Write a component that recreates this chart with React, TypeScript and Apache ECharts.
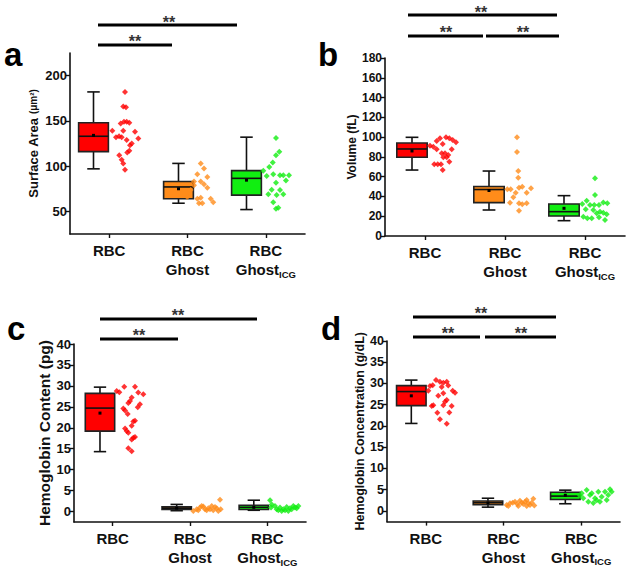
import React, { useEffect, useRef } from "react";
import * as echarts from "echarts";

// ---------- data ----------
const categories = ["RBC", "RBC\nGhost", "RBC\nGhost{sub|ICG}"];
const catPos = [0.5, 1.5, 2.5];
const groupColors = ["#ff0000", "#ff8c1a", "#11ee11"];

const aTicks = [50, 100, 150, 200];
const bTicks = [0, 20, 40, 60, 80, 100, 120, 140, 160, 180];
const cdTicks = [0, 5, 10, 15, 20, 25, 30, 35, 40];

// box stats: [min, q1, median, q3, max, mean]
const aBox = [
  [97, 116, 133, 148, 182, 134],
  [59, 64, 77, 83, 103, 75],
  [52, 68, 86.5, 95, 132, 84.5],
];
const aBoxX = [0.3, 1.385, 2.253];
const bBox = [
  [66.7, 79.6, 88, 94, 99.8, 86],
  [26.3, 33.7, 47, 50, 65.7, 46],
  [15.5, 20.2, 24.6, 32.4, 40.8, 28],
];
const bBoxX = [0.3375, 1.3, 2.2375];
const cBox = [
  [14.3, 19.2, 24.7, 28.2, 29.7, 23.5],
  [0.2, 0.5, 0.8, 1.1, 1.7, 0.8],
  [0.3, 0.5, 1.0, 1.5, 2.7, 1.0],
];
const cBoxX = [0.336, 1.328, 2.325];
const dBox = [
  [20.6, 24.8, 28.1, 29.5, 30.8, 27.1],
  [0.9, 1.5, 1.95, 2.35, 3.0, 1.9],
  [1.7, 2.7, 3.5, 4.4, 4.9, 3.7],
];
const dBoxX = [0.313, 1.3, 2.296];

// individual points: [x, value]
const aRbc = [
  [0.702, 182], [0.68, 166], [0.715, 165], [0.647, 147], [0.689, 149], [0.724, 149],
  [0.757, 148], [0.54, 139], [0.68, 139], [0.83, 138], [0.587, 132], [0.626, 133],
  [0.66, 132], [0.872, 130.5], [0.724, 129], [0.788, 125], [0.766, 123], [0.757, 117],
  [0.731, 115], [0.629, 112], [0.66, 107], [0.68, 103], [0.702, 96],
];
const aGhost = [
  [1.669, 103], [1.711, 97.5], [1.625, 91], [1.753, 88], [1.583, 83], [1.669, 83],
  [1.711, 80], [1.583, 79], [1.753, 76], [1.541, 73.5], [1.497, 66], [1.625, 64],
  [1.669, 65], [1.796, 64], [1.829, 60], [1.647, 59], [1.689, 59],
];
const aIcg = [
  [2.63, 131], [2.672, 116], [2.63, 112], [2.588, 104], [2.544, 99], [2.468, 95],
  [2.595, 91], [2.681, 90], [2.723, 90], [2.796, 90], [2.511, 89], [2.757, 84],
  [2.63, 81.5], [2.575, 74], [2.681, 73.5], [2.532, 69], [2.638, 68], [2.723, 69],
  [2.595, 60], [2.63, 53], [2.659, 54],
];
const bRbc = [
  [0.7625, 99.8], [0.804, 98.8], [0.846, 97], [0.8875, 94.7], [0.6875, 98.8], [0.646, 96],
  [0.721, 93], [0.5625, 91.3], [0.604, 90.3], [0.646, 87.7], [0.834, 87.7], [0.709, 83.6],
  [0.75, 83.6], [0.791, 81.9], [0.729, 79.6], [0.771, 79.6], [0.804, 75], [0.616, 72.5],
  [0.659, 72.5], [0.7, 72.5], [0.721, 66.7],
];
const bGhost = [
  [1.65, 99.8], [1.65, 85], [1.666, 65.7], [1.666, 59], [1.529, 47.2], [1.571, 47.2],
  [1.675, 48.9], [1.716, 49.9], [1.825, 48.2], [1.634, 43.8], [1.771, 43.8], [1.604, 39.1],
  [1.5625, 33.7], [1.675, 33], [1.716, 32], [1.771, 33], [1.675, 25.6],
];
const bIcg = [
  [2.625, 58.3], [2.625, 41.5], [2.521, 35.7], [2.466, 32.4], [2.5625, 31.3], [2.616, 31.3],
  [2.675, 31.3], [2.729, 34], [2.779, 33], [2.509, 27], [2.604, 26.3], [2.6875, 24.6],
  [2.729, 23.6], [2.771, 21.9], [2.646, 23], [2.479, 19.5], [2.529, 17.9], [2.584, 17.9],
  [2.675, 18.9], [2.75, 16.2],
];
const cRbc = [
  [0.552, 28.8], [0.586, 28.5], [0.65, 29.8], [0.789, 29.8], [0.831, 28.4], [0.896, 28],
  [0.746, 27.2], [0.724, 26.4], [0.702, 25.9], [0.853, 25.6], [0.824, 24.9], [0.638, 24.6],
  [0.66, 24.1], [0.694, 23.3], [0.789, 21.7], [0.767, 21.5], [0.746, 20.5], [0.66, 19.8],
  [0.681, 19.2], [0.702, 18.8], [0.789, 17.8], [0.746, 17.2], [0.767, 17.6], [0.702, 15.1],
  [0.746, 14.4],
];
const cGhost = [
  [1.543, 0.15], [1.587, 0.55], [1.629, 0.95], [1.672, 1.2], [1.694, 0.55], [1.737, 0.8],
  [1.781, 1.35], [1.801, 0.3], [1.845, 0.8], [1.888, 2.8], [1.897, 0.55], [1.607, 0.3],
  [1.716, 0.3], [1.759, 0.55], [1.651, 1.35], [1.823, 1.1], [1.866, 0.15],
];
const cIcg = [
  [2.535, 2.7], [2.557, 1.7], [2.548, 0.95], [2.621, 0.55], [2.664, 0.95], [2.707, 0.55],
  [2.75, 1.1], [2.793, 0.8], [2.836, 1.35], [2.88, 0.8], [2.901, 1.35], [2.642, 0.3],
  [2.686, 0.15], [2.729, 0.3], [2.771, 0.15], [2.815, 0.55], [2.858, 0.95], [2.599, 1.35],
];
const dRbc = [
  [0.631, 30.8], [0.682, 30.4], [0.725, 30.2], [0.769, 30.4], [0.588, 29.6], [0.554, 29.4],
  [0.704, 29.2], [0.789, 29.5], [0.532, 28.3], [0.846, 28.3], [0.876, 27.8], [0.725, 27.7],
  [0.66, 27.1], [0.769, 26.1], [0.747, 25.7], [0.576, 24.7], [0.596, 24.9], [0.725, 24.9],
  [0.833, 24.7], [0.648, 23.1], [0.802, 23.2], [0.682, 21.6], [0.769, 20.5],
];
const dGhost = [
  [1.541, 1.4], [1.562, 1.2], [1.584, 1.8], [1.618, 1.95], [1.648, 2.2], [1.678, 1.65],
  [1.691, 1.2], [1.712, 2.4], [1.734, 1.95], [1.755, 1.65], [1.777, 2.2], [1.799, 2.6],
  [1.799, 1.2], [1.82, 1.8], [1.841, 1.4], [1.863, 1.95], [1.884, 2.9], [1.897, 1.3],
];
const dIcg = [
  [2.507, 4.16], [2.527, 3.0], [2.571, 4.94], [2.592, 2.2], [2.614, 3.76], [2.656, 1.9],
  [2.678, 3.0], [2.721, 4.55], [2.742, 2.2], [2.764, 3.37], [2.807, 4.55], [2.829, 2.6],
  [2.849, 3.76], [2.893, 4.55], [2.871, 5.1], [2.485, 3.6], [2.636, 4.16], [2.7, 2.5],
];

// ---------- chart ----------
const FONT = "'Liberation Sans', Arial, sans-serif";

const renderBox = (params: any, api: any) => {
  const x = api.value(0);
  const lo = api.coord([x, api.value(1)]);
  const q1 = api.coord([x, api.value(2)]);
  const md = api.coord([x, api.value(3)]);
  const q3 = api.coord([x, api.value(4)]);
  const hi = api.coord([x, api.value(5)]);
  const mn = api.coord([x, api.value(6)]);
  const half = api.size([0.38, 0])[0] / 2;
  const cap = half * 0.42;
  const color = api.visual("color");
  const ls = { stroke: "#111", lineWidth: 1.6 };
  return {
    type: "group",
    children: [
      { type: "line", shape: { x1: lo[0], y1: lo[1], x2: hi[0], y2: hi[1] }, style: ls },
      { type: "line", shape: { x1: hi[0] - cap, y1: hi[1], x2: hi[0] + cap, y2: hi[1] }, style: ls },
      { type: "line", shape: { x1: lo[0] - cap, y1: lo[1], x2: lo[0] + cap, y2: lo[1] }, style: ls },
      {
        type: "rect",
        shape: { x: q3[0] - half, y: q3[1], width: 2 * half, height: Math.max(q1[1] - q3[1], 1) },
        style: { fill: color, stroke: "#222", lineWidth: 1.6 },
      },
      { type: "line", shape: { x1: md[0] - half, y1: md[1], x2: md[0] + half, y2: md[1] }, style: ls },
      { type: "rect", shape: { x: mn[0] - 1.5, y: mn[1] - 1.5, width: 3, height: 3 }, style: { fill: "#000" } },
    ],
  };
};

type Panel = {
  grid: { left: number; top: number; width: number; height: number };
  yMin: number;
  yMax: number;
  ticks: number[];
  name: string;
  nameSize: number;
  nameGap: number;
  labelSize: number;
  box: number[][];
  boxX: number[];
  points: number[][][];
};

const panels: Panel[] = [
  {
    grid: { left: 70, top: 53, width: 235, height: 181 },
    yMin: 25, yMax: 225, ticks: aTicks,
    name: "Surface Area {s|(μm²)}", nameSize: 13, nameGap: 30, labelSize: 13,
    box: aBox, boxX: aBoxX, points: [aRbc, aGhost, aIcg],
  },
  {
    grid: { left: 385, top: 58, width: 240, height: 178 },
    yMin: 0, yMax: 180, ticks: bTicks,
    name: "Volume (fL)", nameSize: 12, nameGap: 26, labelSize: 12,
    box: bBox, boxX: bBoxX, points: [bRbc, bGhost, bIcg],
  },
  {
    grid: { left: 74, top: 344, width: 232, height: 180.6 },
    yMin: -2.5, yMax: 40, ticks: cdTicks,
    name: "Hemoglobin Content (pg)", nameSize: 15.5, nameGap: 21, labelSize: 13,
    box: cBox, boxX: cBoxX, points: [cRbc, cGhost, cIcg],
  },
  {
    grid: { left: 387, top: 341, width: 233, height: 180.6 },
    yMin: -2.5, yMax: 40, ticks: cdTicks,
    name: "Hemoglobin Concentration (g/dL)", nameSize: 12.5, nameGap: 21, labelSize: 12.5,
    box: dBox, boxX: dBoxX, points: [dRbc, dGhost, dIcg],
  },
];

const catLabel = (v: number) => {
  let best = 0;
  catPos.forEach((p, i) => {
    if (Math.abs(p - v) < Math.abs(catPos[best] - v)) best = i;
  });
  return categories[best];
};

const buildOption = () => {
  const grid: any[] = [];
  const xAxis: any[] = [];
  const yAxis: any[] = [];
  const series: any[] = [];
  const axisLine = { show: true, onZero: false, lineStyle: { color: "#111", width: 1.6 } };
  panels.forEach((p, i) => {
    grid.push({ ...p.grid });
    xAxis.push({
      type: "value",
      gridIndex: i,
      min: 0,
      max: 3,
      axisLine,
      splitLine: { show: false },
      axisTick: { show: true, customValues: catPos, length: 4, lineStyle: { color: "#111", width: 1.4 } },
      axisLabel: {
        customValues: catPos,
        formatter: (v: number) => catLabel(v),
        fontSize: 15,
        fontWeight: "bold",
        color: "#111",
        lineHeight: 19,
        margin: 7,
        fontFamily: FONT,
        rich: {
          sub: { fontSize: 9.5, fontWeight: "bold", color: "#111", verticalAlign: "bottom", padding: [7, 0, 0, 0], fontFamily: FONT },
        },
      },
    });
    yAxis.push({
      type: "value",
      gridIndex: i,
      min: p.yMin,
      max: p.yMax,
      name: p.name,
      nameLocation: "middle",
      nameGap: p.nameGap,
      nameTextStyle: {
        fontSize: p.nameSize,
        fontWeight: "bold",
        color: "#111",
        fontFamily: FONT,
        rich: { s: { fontSize: 10, fontWeight: "bold", color: "#111", fontFamily: FONT } },
      },
      axisLine,
      splitLine: { show: false },
      axisTick: { show: true, customValues: p.ticks, length: 4, lineStyle: { color: "#111", width: 1.4 } },
      axisLabel: {
        customValues: p.ticks,
        fontSize: p.labelSize,
        fontWeight: "bold",
        color: "#111",
        margin: 3,
        fontFamily: FONT,
      },
    });
    series.push({
      type: "custom",
      xAxisIndex: i,
      yAxisIndex: i,
      renderItem: renderBox,
      encode: { x: 0, y: [1, 2, 3, 4, 5, 6] },
      data: p.box.map((s, k) => ({ value: [p.boxX[k], ...s], itemStyle: { color: groupColors[k] } })),
      z: 2,
    });
    p.points.forEach((pts, k) => {
      series.push({
        type: "scatter",
        xAxisIndex: i,
        yAxisIndex: i,
        data: pts,
        symbol: "diamond",
        symbolSize: 6,
        itemStyle: { color: groupColors[k] },
        z: 3,
      });
    });
  });

  const letter = (t: string, x: number, y: number) => ({
    type: "text",
    x,
    y,
    style: { text: t, fontSize: 33, fontWeight: "bold", fill: "#000", font: `bold 33px ${FONT}`, textVerticalAlign: "alphabetic" },
  });
  const bar = (x1: number, x2: number, y: number) => ({
    type: "line",
    shape: { x1, y1: y, x2, y2: y },
    style: { stroke: "#000", lineWidth: 3 },
  });
  const stars = (x: number, y: number) => ({
    type: "text",
    x,
    y,
    style: { text: "**", font: `bold 16px ${FONT}`, fill: "#333", textAlign: "center", textVerticalAlign: "middle" },
  });

  const graphic = [
    letter("a", 4, 38),
    letter("b", 318, 38),
    letter("c", 7, 312),
    letter("d", 321, 312),
    bar(98, 237, 25), stars(169, 22),
    bar(98, 172, 45), stars(135, 41),
    bar(408, 557, 15), stars(481, 12),
    bar(408, 483, 36), stars(446, 32),
    bar(486, 559, 36), stars(523, 32),
    bar(100, 257, 319), stars(178, 315),
    bar(100, 178, 339), stars(139, 335),
    bar(413, 556, 317), stars(481, 313),
    bar(413, 480, 337), stars(448, 333),
    bar(485, 556, 337), stars(521, 333),
  ];

  return {
    animation: false,
    backgroundColor: "#fff",
    textStyle: { fontFamily: FONT },
    grid,
    xAxis,
    yAxis,
    series,
    graphic,
  };
};

export default function App() {
  const ref = useRef<HTMLDivElement>(null);
  useEffect(() => {
    document.body.style.margin = "0";
    if (!ref.current) return;
    const chart = echarts.init(ref.current, undefined, { renderer: "svg" });
    chart.setOption(buildOption() as any);
    return () => chart.dispose();
  }, []);
  return <div ref={ref} style={{ width: 630, height: 567 }} />;
}
